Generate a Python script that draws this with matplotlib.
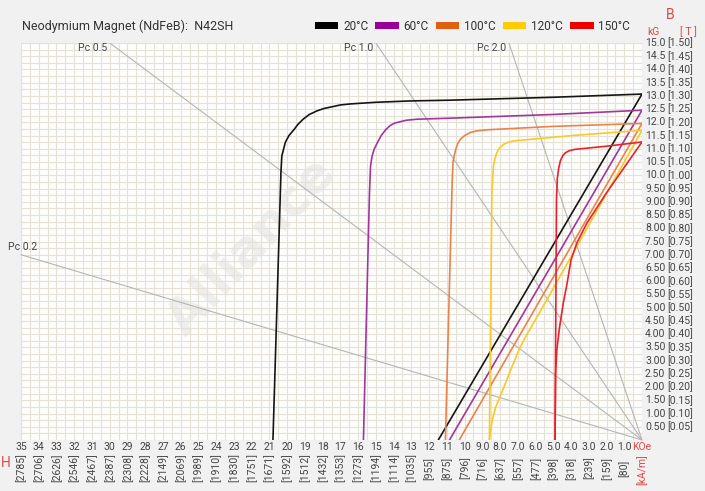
import matplotlib
matplotlib.use('Agg')
import matplotlib.pyplot as plt
from matplotlib.patches import Patch
import matplotlib.transforms as mtransforms

plt.rcParams['font.family'] = ['Roboto', 'DejaVu Sans']

# ---- data (H in kOe, B/J in kG) ----
temps = ['20°C', '60°C', '100°C', '120°C', '150°C']
colors = ['#151515', '#a0379a', '#e8844a', '#f9c926', '#e8222a']
legend_colors = ['#000000', '#990099', '#e06010', '#ffcc00', '#ee0000']

# intrinsic curves
j20_h = [0, 5, 10.8, 13.1, 15.0, 16.4, 17.0, 17.4, 17.9, 18.3, 18.75, 19.1, 19.4, 19.6, 19.9, 20.1, 20.3, 20.35, 20.8]
j20_b = [13.07, 12.95, 12.84, 12.81, 12.76, 12.7, 12.66, 12.6, 12.53, 12.44, 12.3, 12.12, 11.92, 11.74, 11.5, 11.25, 10.73, 10.1, 0]
j60_h = [0, 5, 10.8, 12.7, 13.3, 13.6, 13.95, 14.2, 14.45, 14.7, 14.9, 15.1, 15.22, 15.3, 15.36, 15.7]
j60_b = [12.46, 12.3, 12.16, 12.12, 12.08, 12.03, 11.97, 11.88, 11.72, 11.5, 11.25, 10.98, 10.7, 10.35, 9.35, 0]
j100_h = [0, 5, 8.74, 9.3, 9.68, 10.0, 10.24, 10.38, 10.5, 10.58, 10.65, 10.7, 11.08]
j100_b = [11.96, 11.85, 11.72, 11.68, 11.62, 11.5, 11.36, 11.2, 10.98, 10.75, 10.5, 9.73, 0]
j120_h = [0, 4, 7.24, 7.55, 7.8, 8.05, 8.18, 8.3, 8.37, 8.46, 8.6]
j120_b = [11.7, 11.5, 11.3, 11.25, 11.17, 11.02, 10.86, 10.6, 10.36, 9.36, 0]
j150_h = [0, 2, 3.8, 4.1, 4.3, 4.45, 4.6, 4.7, 4.77, 4.82, 4.9]
j150_b = [11.26, 11.1, 10.98, 10.93, 10.86, 10.76, 10.55, 10.25, 9.9, 9.1, 0]

# normal (B) curves
b20_h = [0, 11.48]
b20_b = [13.07, 0]
b60_h = [0, 10.85]
b60_b = [12.46, 0]
b100_h = [0, 10.3]
b100_b = [11.96, 0]
b120_h = [0, 5.36, 6.6, 6.87, 7.0, 7.43, 7.75, 8.0, 8.27, 8.45, 8.55, 8.6]
b120_b = [11.7, 5.3, 3.85, 3.5, 3.3, 2.6, 2.05, 1.64, 1.2, 0.7, 0.3, 0]
b150_h = [0, 2.0, 3.1, 3.67, 4.0, 4.24, 4.43, 4.66, 4.8, 4.87, 4.9]
b150_b = [11.26, 9.34, 8.2, 7.45, 6.8, 5.85, 5.2, 4.2, 3.4, 2.5, 0]

j_curves = [(j20_h, j20_b), (j60_h, j60_b), (j100_h, j100_b), (j120_h, j120_b), (j150_h, j150_b)]
b_curves = [(b20_h, b20_b), (b60_h, b60_b), (b100_h, b100_b), (b120_h, b120_b), (b150_h, b150_b)]

# permeance coefficient load lines
pc_values = [0.2, 0.5, 1.0, 2.0]
pc_labels = ['Pc 0.2', 'Pc 0.5', 'Pc 1.0', 'Pc 2.0']

# axis labels
h_ticks = list(range(35, 0, -1))
h_labels = [str(v) if v >= 10 else '%.1f' % v for v in h_ticks]
ka_labels = ['2785', '2706', '2626', '2546', '2467', '2387', '2308', '2228', '2149', '2069',
             '1989', '1910', '1830', '1751', '1671', '1592', '1512', '1432', '1353', '1273',
             '1194', '1114', '1035', '955', '875', '796', '716', '637', '557', '477',
             '398', '318', '239', '159', '80']
b_ticks = [v / 2 for v in range(30, 0, -1)]
kg_labels = ['%.1f' % v if v >= 10 else '%.2f' % v for v in b_ticks]
t_labels = ['[%.2f]' % (v / 10) for v in b_ticks]

txt = '#444444'
red = '#e04848'

fig = plt.figure(figsize=(7.05, 4.91), dpi=100, facecolor='#f1f1f1')
ax = fig.add_axes([21 / 705, 51 / 491, 621 / 705, 397 / 491])
ax.set_facecolor('#fdfdfc')
ax.set_xlim(35, 0)
ax.set_ylim(0, 15)
ax.set_xticks([])
ax.set_yticks([])
ax.set_xticks([v / 2 for v in range(0, 71)], minor=True)
ax.set_yticks([v / 4 for v in range(0, 61)], minor=True)
ax.grid(which='minor', color='#e5e1d7', lw=0.8)
ax.tick_params(which='both', length=0, labelbottom=False, labelleft=False)
for s in ax.spines.values():
    s.set_visible(False)

# watermark
ax.text(22.0, 7.3, 'Alliance', fontsize=36, fontweight='bold', color='#eeeeee',
        rotation=47, ha='center', va='center', zorder=1.5, family='DejaVu Sans')

# load lines
for pc, lab in zip(pc_values, pc_labels):
    if pc * 35 <= 15:
        ax.plot([0, 35], [0, pc * 35], color='#b5b5b5', lw=0.8, zorder=2, clip_on=False)
        ax.text(34.1, pc * 35 + 0.3, lab, ha='right', va='center', fontsize=7.5, color=txt, clip_on=False)
    else:
        ax.plot([0, 15 / pc], [0, 15], color='#b5b5b5', lw=0.8, zorder=2)
        ax.text(15 / pc + 0.15, 14.8, lab, ha='right', va='center', fontsize=7.5, color=txt)

for (jh, jb), (bh, bb), c in zip(j_curves, b_curves, colors):
    ax.plot(jh, jb, color=c, lw=1.2, zorder=3, solid_joinstyle='round')
    ax.plot(bh, bb, color=c, lw=1.2, zorder=3, solid_joinstyle='round')

# bottom labels
bx = mtransforms.blended_transform_factory(ax.transData, fig.transFigure)
for v, lab, ka in zip(h_ticks, h_labels, ka_labels):
    ax.text(v, 1 - 447 / 491, lab, transform=bx, ha='center', va='center', fontsize=7.5, color=txt)
    ax.text(v, 1 - 468 / 491, '[' + ka + ']', transform=bx, ha='center', va='center',
            fontsize=7.5, color=txt, rotation=90)
ax.text(0, 1 - 447 / 491, 'KOe', transform=bx, ha='center', va='center', fontsize=7.5, color=red)
ax.text(0, 1 - 470 / 491, '[kA/m]', transform=bx, ha='center', va='center', fontsize=7.5,
        color=red, rotation=90)
fig.text(6 / 705, 1 - 463 / 491, 'H', ha='center', va='center', fontsize=10, color=red)

# right labels
by = mtransforms.blended_transform_factory(fig.transFigure, ax.transData)
for v, kg, t in zip(b_ticks, kg_labels, t_labels):
    ax.text(645 / 705, v, kg, transform=by, ha='left', va='center', fontsize=7.5, color=txt)
    ax.text(667 / 705, v, t, transform=by, ha='left', va='center', fontsize=7.5, color=txt)
fig.text(653 / 705, 1 - 32 / 491, 'kG', ha='center', va='center', fontsize=7.5, color=red)
fig.text(688 / 705, 1 - 32 / 491, '[ T ]', ha='center', va='center', fontsize=7.5, color=red)
fig.text(670 / 705, 1 - 15 / 491, 'B', ha='center', va='center', fontsize=10, color=red)

# title and legend
fig.text(22 / 705, 1 - 26 / 491, 'Neodymium Magnet (NdFeB):  N42SH', ha='left', va='center',
         fontsize=9, color='#333333')
handles = [Patch(facecolor=c, edgecolor='none', label=t) for c, t in zip(legend_colors, temps)]
fig.legend(handles=handles, ncol=5, loc='center right', bbox_to_anchor=(636 / 705, 1 - 26 / 491),
           frameon=False, fontsize=8.5, handlelength=2.0, handleheight=0.6, handletextpad=0.4,
           columnspacing=0.6, borderpad=0, labelcolor='#333333')

fig.savefig('out.png', dpi=100, facecolor=fig.get_facecolor())
